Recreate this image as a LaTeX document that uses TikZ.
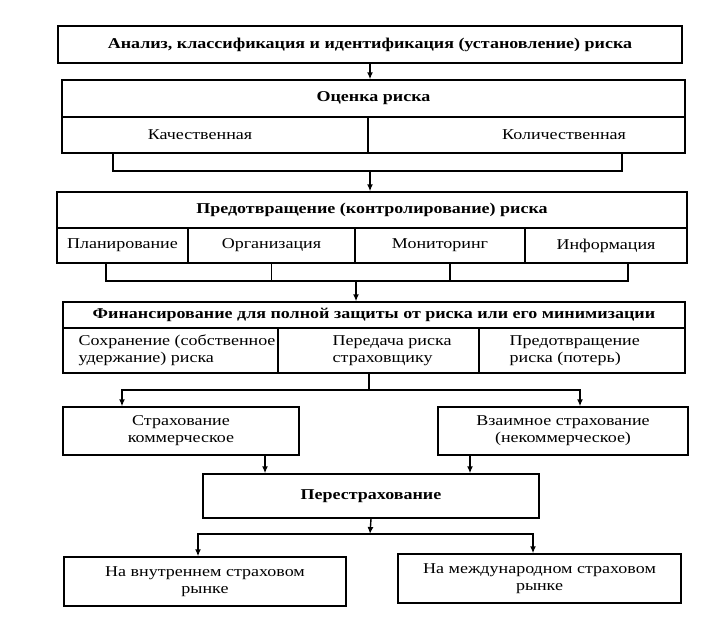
\documentclass[tikz,border=0pt]{standalone}
\usepackage{fontspec}
\setmainfont{Liberation Serif}[FakeStretch=1.2]
\usepackage{tikz}
\usetikzlibrary{arrows,arrows.meta}
\usetikzlibrary{positioning}
\tikzset{
    block/.style={draw=black, rectangle, inner sep=0pt, align=center},
    cell/.style={draw=black, rectangle, inner sep=0pt, align=center},
    label/.style={inner sep=0pt, align=left},
    link/.style={draw=black, ->, >={Latex[length=7pt,width=6pt]}},
    joint/.style={draw=black},
}

\begin{document}
\begin{tikzpicture}[x=1pt, y=-1pt, line width=1.4pt,
    font=\fontsize{15}{17}\selectfont]
	\useasboundingbox (0,0) rectangle (727,638);
	% analysis and estimate
	\node[block, minimum width=624, minimum height=37] (analysis) at (370,44.5)
		{\bfseries Анализ, классификация и идентификация (установление) риска};
	\node[block, minimum width=623, minimum height=37] (estimate) at (373.5,98.5)
		{\bfseries Оценка риска};
	\node[cell, minimum width=306, minimum height=36] (qual) at (215,135) {};
	\node[cell, minimum width=317, minimum height=36] (quant) at (526.5,135) {};
	\node[label] (qualtxt) at (200,135) {Качественная};
	\node[label] (quanttxt) at (564,135) {Количественная};
	\draw[link] (analysis.south) -- (analysis.south |- estimate.north);
	\coordinate (j1) at (370,171);
	\draw[joint] ([xshift=-102pt]qual.south) |- (j1) -| ([xshift=95.5pt]quant.south);
	% prevention
	\node[block, minimum width=630, minimum height=36] (prevent) at (372,210)
		{\bfseries Предотвращение (контролирование) риска};
	\node[cell, minimum width=131, minimum height=35] (plan) at (122.5,245.5) {Планирование};
	\node[cell, minimum width=167, minimum height=35] (org) at (271.5,245.5) {Организация};
	\node[cell, minimum width=170, minimum height=35] (mon) at (440,245.5) {Мониторинг};
	\node[cell, minimum width=162, minimum height=35] (info) at (606,245.5) {Информация};
	\draw[link] (j1) -- (j1 |- prevent.north);
	\coordinate (j2) at (356,281);
	\coordinate (b3l) at (106,281);
	\coordinate (b3r) at (628,281);
	\draw[joint] ([xshift=-16.5pt]plan.south) -- (b3l) -- (b3r) -- ([xshift=22pt]info.south);
	\draw[joint] (org.south) -- (org.south |- j2);
	\draw[joint] ([xshift=10pt]mon.south) -- ([xshift=10pt]mon.south |- j2);
	% financing
	\node[block, minimum width=622, minimum height=26] (finance) at (374,315)
		{\bfseries Финансирование для полной защиты от риска или его минимизации};
	\node[cell, minimum width=215, minimum height=45] (keep) at (170.5,350.5) {};
	\node[cell, minimum width=201, minimum height=45] (transfer) at (378.5,350.5) {};
	\node[cell, minimum width=206, minimum height=45] (avert) at (582,350.5) {};
	\node[label, anchor=west] (keeptxt) at (78,350.5) {Сохранение (собственное\\удержание) риска};
	\node[label, anchor=west] (transfertxt) at (332,350.5) {Передача риска\\страховщику};
	\node[label, anchor=west] (averttxt) at (509,350.5) {Предотвращение\\риска (потерь)};
	\draw[link] (j2) -- (j2 |- finance.north);
	% insurance
	\node[block, minimum width=236, minimum height=48] (comm) at (181,431)
		{Страхование\\коммерческое};
	\node[block, minimum width=250, minimum height=48] (mutual) at (563,431)
		{Взаимное страхование\\(некоммерческое)};
	\coordinate (j4) at (369,390);
	\draw[joint] (j4 |- transfer.south) -- (j4);
	\draw[link] (j4) -| ([xshift=-59pt]comm.north);
	\draw[link] (j4) -| ([xshift=17pt]mutual.north);
	\node[block, minimum width=336, minimum height=44] (reins) at (371,496)
		{\bfseries Перестрахование};
	\draw[link] ([xshift=84pt]comm.south) -- ([xshift=84pt]comm.south |- reins.north);
	\draw[link] ([xshift=-93pt]mutual.south) -- ([xshift=-93pt]mutual.south |- reins.north);
	% markets
	\node[block, minimum width=282, minimum height=49] (dom) at (205,581.5)
		{На внутреннем страховом\\рынке};
	\node[block, minimum width=283, minimum height=49] (intl) at (539.5,578.5)
		{На международном страховом\\рынке};
	\coordinate (j5) at (370,534);
	\draw[link] (reins.south) -- (j5);
	\draw[link] (j5) -| ([xshift=-7pt]dom.north);
	\draw[link] (j5) -| ([xshift=-6.5pt]intl.north);
\end{tikzpicture}
\end{document}
